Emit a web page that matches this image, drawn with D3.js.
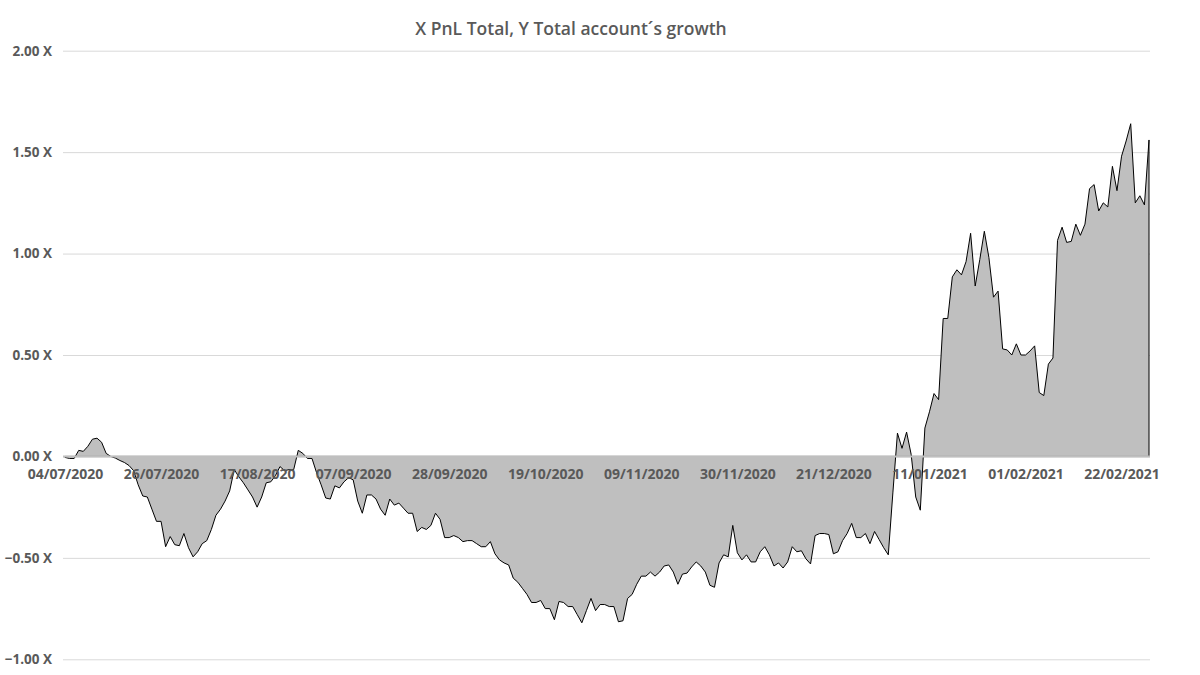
<!DOCTYPE html>
<html>
<head>
<meta charset="utf-8">
<script src="https://cdn.jsdelivr.net/npm/d3@7"></script>
<style>
  body { margin: 0; background: #fff; }
  text { font-family: "Open Sans", "Liberation Sans", sans-serif; fill: #595959; }
</style>
</head>
<body>
<script>
var svgWidth = 1200;
var svgHeight = 675;

// account growth (X) per day
var growth = [
  -0.005, -0.01, -0.01, 0.03, 0.025, 0.05, 0.085, 0.09, 0.07, 0.015,
  0.0, -0.008, -0.02, -0.03, -0.045, -0.07, -0.14, -0.195, -0.2, -0.26,
  -0.32, -0.32, -0.445, -0.395, -0.435, -0.44, -0.38, -0.45, -0.495, -0.47,
  -0.43, -0.415, -0.36, -0.29, -0.26, -0.22, -0.17, -0.065, -0.1, -0.13,
  -0.165, -0.2, -0.25, -0.2, -0.13, -0.125, -0.095, -0.05, -0.07, -0.065,
  -0.065, 0.03, 0.015, -0.01, -0.01, -0.08, -0.14, -0.205, -0.21, -0.145,
  -0.155, -0.125, -0.105, -0.115, -0.22, -0.28, -0.19, -0.19, -0.21, -0.26,
  -0.29, -0.21, -0.24, -0.23, -0.255, -0.28, -0.28, -0.37, -0.35, -0.36,
  -0.34, -0.28, -0.31, -0.4, -0.4, -0.39, -0.4, -0.42, -0.415, -0.415,
  -0.43, -0.445, -0.445, -0.42, -0.48, -0.51, -0.525, -0.535, -0.6, -0.62,
  -0.65, -0.68, -0.72, -0.72, -0.71, -0.75, -0.75, -0.805, -0.715, -0.72,
  -0.74, -0.74, -0.78, -0.82, -0.76, -0.7, -0.76, -0.73, -0.73, -0.74,
  -0.74, -0.815, -0.81, -0.7, -0.68, -0.63, -0.59, -0.59, -0.57, -0.59,
  -0.57, -0.54, -0.535, -0.57, -0.63, -0.58, -0.575, -0.545, -0.52, -0.54,
  -0.57, -0.635, -0.645, -0.525, -0.485, -0.495, -0.34, -0.475, -0.51, -0.485,
  -0.52, -0.52, -0.47, -0.445, -0.485, -0.54, -0.525, -0.55, -0.52, -0.445,
  -0.47, -0.465, -0.505, -0.53, -0.39, -0.38, -0.38, -0.385, -0.48, -0.47,
  -0.415, -0.38, -0.33, -0.4, -0.4, -0.38, -0.43, -0.37, -0.41, -0.45,
  -0.485, -0.18, 0.115, 0.04, 0.12, 0.01, -0.2, -0.265, 0.14, 0.22,
  0.31, 0.28, 0.68, 0.68, 0.885, 0.92, 0.895, 0.96, 1.1, 0.84,
  0.97, 1.11, 0.98, 0.785, 0.815, 0.53, 0.525, 0.5, 0.555, 0.5,
  0.5, 0.52, 0.545, 0.315, 0.3, 0.455, 0.485, 1.065, 1.13, 1.055,
  1.06, 1.145, 1.09, 1.145, 1.32, 1.34, 1.21, 1.25, 1.23, 1.43,
  1.31, 1.48, 1.555, 1.64, 1.25, 1.285, 1.24, 1.56
];

// one date label every 21 points
var tickStep = 21;
var tickLabels = ["04/07/2020", "26/07/2020", "17/08/2020", "07/09/2020", "28/09/2020",
  "19/10/2020", "09/11/2020", "30/11/2020", "21/12/2020", "11/01/2021",
  "01/02/2021", "22/02/2021"];

var yTicks = [-1, -0.5, 0, 0.5, 1, 1.5, 2];

var plotLeft = 63, plotRight = 1150;

var svg = d3.select("body").append("svg")
    .attr("width", svgWidth)
    .attr("height", svgHeight);

var x = d3.scaleLinear()
    .domain([0, growth.length - 1])
    .range([65, 1149]);

var y = d3.scaleLinear()
    .domain([-1, 2])
    .range([659.3, 50.7]);

svg.append("text")
    .attr("x", 571)
    .attr("y", 35)
    .attr("text-anchor", "middle")
    .style("font-size", "17.5px")
    .style("font-weight", 600)
    .text("X PnL Total, Y Total account´s growth");

// gridlines + y labels
var yAxis = d3.axisLeft(y)
    .tickValues(yTicks)
    .tickSize(-(plotRight - plotLeft))
    .tickPadding(11)
    .tickFormat(d => d3.format(".2f")(d) + " X");

var yg = svg.append("g")
    .attr("transform", `translate(${plotLeft},0)`)
    .call(yAxis);
yg.select(".domain").remove();
yg.selectAll("line").attr("stroke", "#d9d9d9");
yg.selectAll("text")
    .style("font-size", "13.5px")
    .style("font-weight", "bold");

var area = d3.area()
    .x((d, i) => x(i))
    .y0(y(0))
    .y1(d => y(d));

svg.append("path")
    .datum(growth)
    .attr("d", area)
    .attr("fill", "#bfbfbf")
    .attr("stroke", "#000")
    .attr("stroke-width", 1)
    .attr("stroke-linejoin", "round");

// zero axis with date labels
var xAxis = d3.axisBottom(x)
    .tickValues(tickLabels.map((d, i) => i * tickStep))
    .tickSize(0)
    .tickPadding(13)
    .tickFormat(i => tickLabels[i / tickStep]);

var xg = svg.append("g")
    .attr("transform", `translate(0,${y(0)})`)
    .call(xAxis);
xg.select(".domain").remove();
xg.selectAll("text")
    .style("font-size", "14px")
    .style("font-weight", "bold");

svg.append("line")
    .attr("x1", plotLeft)
    .attr("x2", plotRight)
    .attr("y1", y(0))
    .attr("y2", y(0))
    .attr("stroke", "#bfbfbf")
    .attr("stroke-width", 2);
</script>
</body>
</html>
